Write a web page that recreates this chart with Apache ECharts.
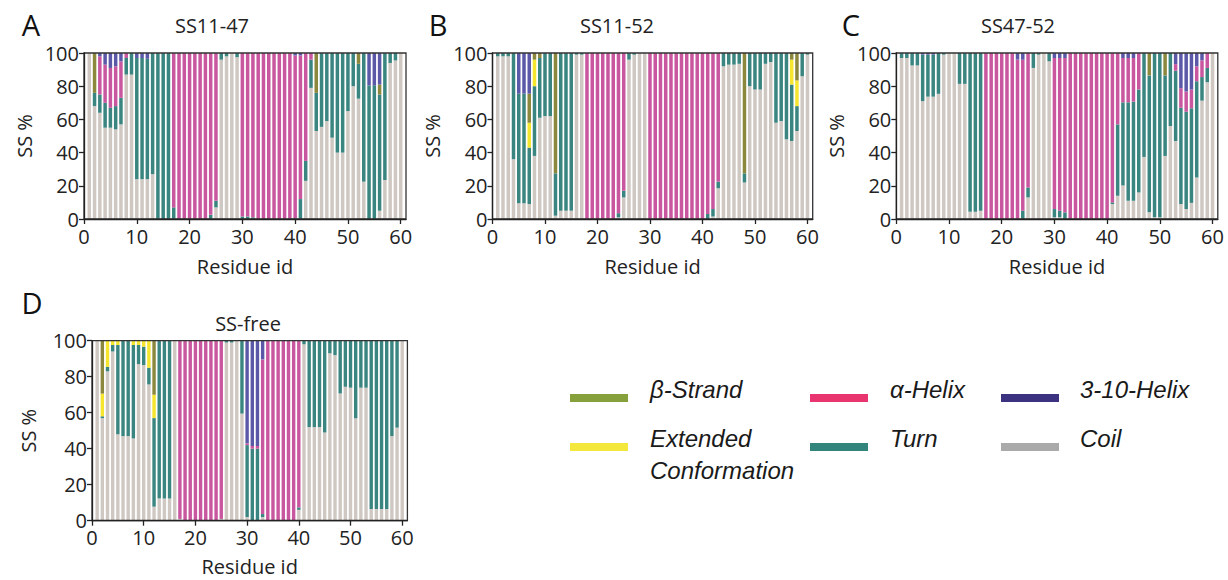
<!DOCTYPE html>
<html><head><meta charset="utf-8">
<script src="https://cdn.jsdelivr.net/npm/echarts@6/dist/echarts.min.js"></script>
<style>html,body{margin:0;padding:0;background:#fff}#c{width:1228px;height:580px}</style>
</head><body><div id="c"></div>
<script>
const residues = [1,2,3,4,5,6,7,8,9,10,11,12,13,14,15,16,17,18,19,20,21,22,23,24,25,26,27,28,29,30,31,32,33,34,35,36,37,38,39,40,41,42,43,44,45,46,47,48,49,50,51,52,53,54,55,56,57,58,59,60];
const xAxisEnds = [0, 61];
const xTickLabels = ['0','10','20','30','40','50','60'];
const panelTitles = ['SS11-47','SS11-52','SS47-52','SS-free'];
const panelLetters = ['A','B','C','D'];
const seriesNames = ['Coil','Turn','Extended Conformation','β-Strand','α-Helix','3-10-Helix'];

// Panel A (SS11-47)
const A_coil  = [100,68,64,55,55,54,57,87,87,24, 24,24,27,0,0,0,0,0,0,0, 0,0,0,0,7,96,98,100,97.5,0, 0,0,0,0,0,0,0,0,0,0, 0,23,79,53,55.5,59,49,40,40,65, 80,72.5,22.5,0,0,5,23.5,94,95.5,100];
const A_turn  = [0,8,11,15,12,14,16,10,13,73, 73,72.5,73,100,100,100,7,0,0,0, 0,0,0,2.5,4,4,2,0,2.5,1.5, 1.5,1,0,0,0,0,0,0,0,0.5, 12,12,17,23,44.5,41,51,60,60,35, 20,21,77.5,80.5,80.5,70,76.5,6,4.5,0];
const A_ext   = [0,0,0,0,0,0,0,0,0,0, 0,0,0,0,0,0,0,0,0,0, 0,0,0,0,0,0,0,0,0,0, 0,0,0,0,0,0,0,0,0,0, 0,0,0,0,0,0,0,0,0,0, 0,0,0,0,0,0,0,0,0,0];
const A_strand= [0,24,0,0,0,0,0,0,0,0, 0,0,0,0,0,0,0,0,0,0, 0,0,0,0,0,0,0,0,0,0, 0,0,0,0,0,0,0,0,0,0, 0,0,0,24,0,0,0,0,0,0, 0,6.5,0,0,0,6,0,0,0,0];
const A_alpha = [0,0,23,23,24,24,22,3,0,0, 0,0,0,0,0,0,93,100,100,100, 100,100,100,97.5,89,0,0,0,0,98.5, 98.5,99,100,100,100,100,100,100,100,98, 86.5,65,4,0,0,0,0,0,0,0, 0,0,0,0,0,0,0,0,0,0];
const A_h310  = [0,0,2,7,9,8,5,0,0,3, 3,3.5,0,0,0,0,0,0,0,0, 0,0,0,0,0,0,0,0,0,0, 0,0,0,0,0,0,0,0,0,1.5, 1.5,0,0,0,0,0,0,0,0,0, 0,0,0,19.5,19.5,19,0,0,0,0];

// Panel B (SS11-52)
const B_coil  = [98,98,98,36,9.5,9.5,9,38,61,62, 62,2,5,5,5,99,99,0,0,0, 0,0,0,1,13,96,99,100,100,0, 0,0,0,0,0,0,0,0,0,0, 0,1.5,18.5,92,93,93,93.5,22,80,78, 78,93.5,94.5,58,59,48,47,53,86,99];
const B_turn  = [2,2,2,64,66,66,34,42,36,38, 38,25.5,95,95,95,1,1,0,0,0, 0,0,0,2.5,4,4,1,0,0,0, 0,0,0,0,0,0,0,0,0,0, 3,4.5,4,8,7,7,6.5,5.5,20,22, 22,6.5,5.5,42,41,52,34,15,14,1];
const B_ext   = [0,0,0,0,0,0,15,16,0,0, 0,0,0,0,0,0,0,0,0,0, 0,0,0,0,0,0,0,0,0,0, 0,0,0,0,0,0,0,0,0,0, 0,0,0,0,0,0,0,0,0,0, 0,0,0,0,0,0,15,15.5,0,0];
const B_strand= [0,0,0,0,0,0,17.5,4,3,0, 0,72.5,0,0,0,0,0,0,0,0, 0,0,0,0,0,0,0,0,0,0, 0,0,0,0,0,0,0,0,0,0, 0,0,0,0,0,0,0,72.5,0,0, 0,0,0,0,0,0,4,16.5,0,0];
const B_alpha = [0,0,0,0,0,0,0,0,0,0, 0,0,0,0,0,0,0,100,100,100, 100,100,100,96.5,83,0,0,0,0,100, 100,100,100,100,100,100,100,100,100,100, 97,94,77.5,0,0,0,0,0,0,0, 0,0,0,0,0,0,0,0,0,0];
const B_h310  = [0,0,0,0,24.5,24.5,24.5,0,0,0, 0,0,0,0,0,0,0,0,0,0, 0,0,0,0,0,0,0,0,0,0, 0,0,0,0,0,0,0,0,0,0, 0,0,0,0,0,0,0,0,0,0, 0,0,0,0,0,0,0,0,0,0];

// Panel C (SS47-52)
const C_coil  = [97,97,92.5,92.5,71,73.7,73.7,75.4,99,100, 100,81.4,81.4,4.4,4.4,5,0,0,0,0, 0,0,0,0,13,91,99,100,95,1, 1,0,0,0,0,0,0,0,0,0, 9,14,20.2,11,11,16,37.4,4,1,1, 38,56,47,9,6,9.7,25,71.3,82.4,100];
const C_turn  = [3,3,7.5,7.5,28,25.3,25.3,24.6,1,0, 0,18.6,18.6,95.6,95.6,95,0,0,0,0, 0,0,0,5,6,9,1,0,5,5, 4,4,0,0,0,0,0,0,0,0, 1,43,50.1,59.3,59.7,62,62.6,82.5,99,99, 48.5,44,42.3,58,58.6,57,58,14.2,8.6,0];
const C_ext   = [0,0,0,0,0,0,0,0,0,0, 0,0,0,0,0,0,0,0,0,0, 0,0,0,0,0,0,0,0,0,0, 0,0,0,0,0,0,0,0,0,0, 0,0,0,0,0,0,0,0,0,0, 0,0,0,0,0,0,0,0,0,0];
const C_strand= [0,0,0,0,0,0,0,0,0,0, 0,0,0,0,0,0,0,0,0,0, 0,0,0,0,0,0,0,0,0,0, 0,0,0,0,0,0,0,0,0,0, 0,0,0,0,0,0,0,13.5,0,0, 13.5,0,0,0,0,0,0,0,0,0];
const C_alpha = [0,0,0,0,0,0,0,0,0,0, 0,0,0,0,0,0,100,100,100,100, 100,100,96,91,81,0,0,0,0,91, 92,93,100,100,100,100,100,100,100,100, 90,43,26.7,26.7,26.3,22,0,0,0,0, 0,0,4,11.8,12.2,11.3,9,10.1,9,0];
const C_h310  = [0,0,0,0,1,1,1,0,0,0, 0,0,0,0,0,0,0,0,0,0, 0,0,4,4,0,0,0,0,0,3, 3,3,0,0,0,0,0,0,0,0, 0,0,3,3,3,0,0,0,0,0, 0,0,6.7,21.2,23.2,22,8,4.4,0,0];

// Panel D (SS-free)
const D_coil  = [100,57,83,94,48,47,47,45.7,87,86.5, 75.7,7.8,12.4,12.4,12.4,100,1,0,0,0, 0,0,0,0,1,99,99,100,59.5,2, 0,0,2,0,0,0,0,0,0,6, 98,52,52,52,49,93,92,70.7,74.4,73.9, 56.9,73.9,73.9,6.5,6.5,6.5,6.5,47,51.7,100];
const D_turn  = [0,1,2.5,3.6,49.6,53,53,51.9,10.6,10.2, 9.3,49.2,87.6,87.6,87.6,0,0,0,0,0, 0,0,0,0,0,1,1,0,40.5,40, 40,40,1.7,0,0,0,0,0,0,1.4, 2,48,48,48,51,7,8,29.3,25.6,26.1, 43.1,26.1,26.1,93.5,93.5,93.5,93.5,53,48.3,0];
const D_ext   = [0,12.6,14.5,2.4,2.4,0,0,2.4,2.4,3.3, 15,13,0,0,0,0,0,0,0,0, 0,0,0,0,0,0,0,0,0,0, 0,0,0,0,0,0,0,0,0,0, 0,0,0,0,0,0,0,0,0,0, 0,0,0,0,0,0,0,0,0,0];
const D_strand= [0,29.4,0,0,0,0,0,0,0,0, 0,30,0,0,0,0,0,0,0,0, 0,0,0,0,0,0,0,0,0,0, 0,0,0,0,0,0,0,0,0,0, 0,0,0,0,0,0,0,0,0,0, 0,0,0,0,0,0,0,0,0,0];
const D_alpha = [0,0,0,0,0,0,0,0,0,0, 0,0,0,0,0,0,99,100,100,100, 100,100,100,100,99,0,0,0,0,1, 1.5,1.5,85.9,100,100,100,100,100,100,92.6, 0,0,0,0,0,0,0,0,0,0, 0,0,0,0,0,0,0,0,0,0];
const D_h310  = [0,0,0,0,0,0,0,0,0,0, 0,0,0,0,0,0,0,0,0,0, 0,0,0,0,0,0,0,0,0,57, 58.5,58.5,10.4,0,0,0,0,0,0,0, 0,0,0,0,0,0,0,0,0,0, 0,0,0,0,0,0,0,0,0,0];

const panelData = [
  [A_coil, A_turn, A_ext, A_strand, A_alpha, A_h310],
  [B_coil, B_turn, B_ext, B_strand, B_alpha, B_h310],
  [C_coil, C_turn, C_ext, C_strand, C_alpha, C_h310],
  [D_coil, D_turn, D_ext, D_strand, D_alpha, D_h310]
];

const barColors = ['#cfc8c2','#3a8580','#f5e52e','#8b873d','#c8579f','#5b58a8'];
const legendColors = {'β-Strand':'#86a03c','α-Helix':'#e8356f','3-10-Helix':'#3b3280','Extended Conformation':'#f4e83c','Turn':'#32857b','Coil':'#aaaaaa'};

const FONT = 'Open Sans';
const TXT = '#222';

// axis categories 0..61 (axis ends + residues), positioned with boundaryGap:false
const xCats = [String(xAxisEnds[0])].concat(residues.map(String), [String(xAxisEnds[1])]);
const showTick = (idx, val) => xTickLabels.indexOf(String(val)) >= 0;

// layout (pixels)
const grids = [
  {left:84,   top:53,    width:322,   height:166, barW:3.5, nameGapY:50, nameGapX:37},
  {left:492.5,top:53,    width:320.2, height:166, barW:3.5, nameGapY:50, nameGapX:37},
  {left:896.3,top:53,    width:321.5, height:166, barW:3.5, nameGapY:50, nameGapX:37},
  {left:92,   top:340.7, width:315.4, height:180, barW:3.4, nameGapY:54, nameGapX:36}
];
const titlePos = [{x:212,y:15},{x:617,y:15},{x:1018,y:15},{x:248,y:313}];
const letterPos = [{x:31,y:10},{x:438,y:10},{x:851,y:10},{x:32,y:288}];

const chart = echarts.init(document.getElementById('c'), null, {renderer:'svg'});

const option = {
  animation:false,
  backgroundColor:'#fff',
  grid: grids.map(g => ({left:g.left, top:g.top, width:g.width, height:g.height, show:true, z:10, borderColor:'#333', borderWidth:1.3, backgroundColor:'transparent'})),
  xAxis: grids.map((g,i) => ({
    type:'category', gridIndex:i, data:xCats, boundaryGap:false, z:10,
    name:'Residue id', nameLocation:'middle', nameGap:g.nameGapX,
    nameTextStyle:{fontFamily:FONT, fontSize:20, color:TXT},
    axisLine:{show:true, lineStyle:{color:'#222', width:1.3}},
    axisTick:{show:true, length:5, interval:showTick, lineStyle:{color:'#222', width:1.3}},
    axisLabel:{fontFamily:FONT, fontSize:20, color:TXT, margin:7, interval:showTick},
    splitLine:{show:false}
  })),
  yAxis: grids.map((g,i) => ({
    type:'value', gridIndex:i, min:0, max:100, interval:20, z:10,
    name:'SS %', nameLocation:'middle', nameGap:g.nameGapY, nameRotate:90,
    nameTextStyle:{fontFamily:FONT, fontSize:20, color:TXT},
    axisLine:{show:true, lineStyle:{color:'#222', width:1.3}},
    axisTick:{show:true, length:5, lineStyle:{color:'#222', width:1.3}},
    axisLabel:{fontFamily:FONT, fontSize:20, color:TXT, margin:5},
    splitLine:{show:false}
  })),
  title: [
    ...panelTitles.map((t,i) => ({text:t, left:titlePos[i].x, top:titlePos[i].y, textAlign:'center', padding:0,
      textStyle:{fontFamily:FONT, fontSize:20, fontWeight:'normal', color:TXT}})),
    ...panelLetters.map((t,i) => ({text:t, left:letterPos[i].x, top:letterPos[i].y, textAlign:'center', padding:0,
      textStyle:{fontFamily:FONT, fontSize:29, fontWeight:'normal', color:'#111'}}))
  ],
  series: [],
  graphic: []
};

panelData.forEach((arrs, gi) => {
  arrs.forEach((arr, si) => {
    option.series.push({
      type:'bar', name:seriesNames[si], xAxisIndex:gi, yAxisIndex:gi, stack:'p'+gi,
      barWidth:grids[gi].barW, silent:true, z:2,
      itemStyle:{color:barColors[si]},
      data: residues.map((r,k) => [String(r), arr[k]])
    });
  });
});

// legend drawn as graphic (swatch + italic text)
const legendItems = [
  {name:'β-Strand', label:'β-Strand', sx:570, sy:398, tx:650, ty:389},
  {name:'α-Helix', label:'α-Helix', sx:810, sy:398, tx:890, ty:389},
  {name:'3-10-Helix', label:'3-10-Helix', sx:1001, sy:398, tx:1080, ty:389},
  {name:'Extended Conformation', label:'Extended\nConformation', sx:570, sy:447, tx:650, ty:454},
  {name:'Turn', label:'Turn', sx:810, sy:447, tx:890, ty:438},
  {name:'Coil', label:'Coil', sx:1001, sy:447, tx:1080, ty:438}
];
legendItems.forEach(it => {
  option.graphic.push({type:'rect', left:it.sx, top:it.sy-4, shape:{width:58, height:8}, style:{fill:legendColors[it.name]}, silent:true});
  option.graphic.push({type:'text', x:it.tx, y:it.ty, silent:true,
    style:{text:it.label, fill:'#1a1a1a', fontFamily:'Liberation Sans', fontSize:24, fontStyle:'italic', lineHeight:32, align:'left', verticalAlign:'middle'}});
});

chart.setOption(option);
</script>
</body></html>
